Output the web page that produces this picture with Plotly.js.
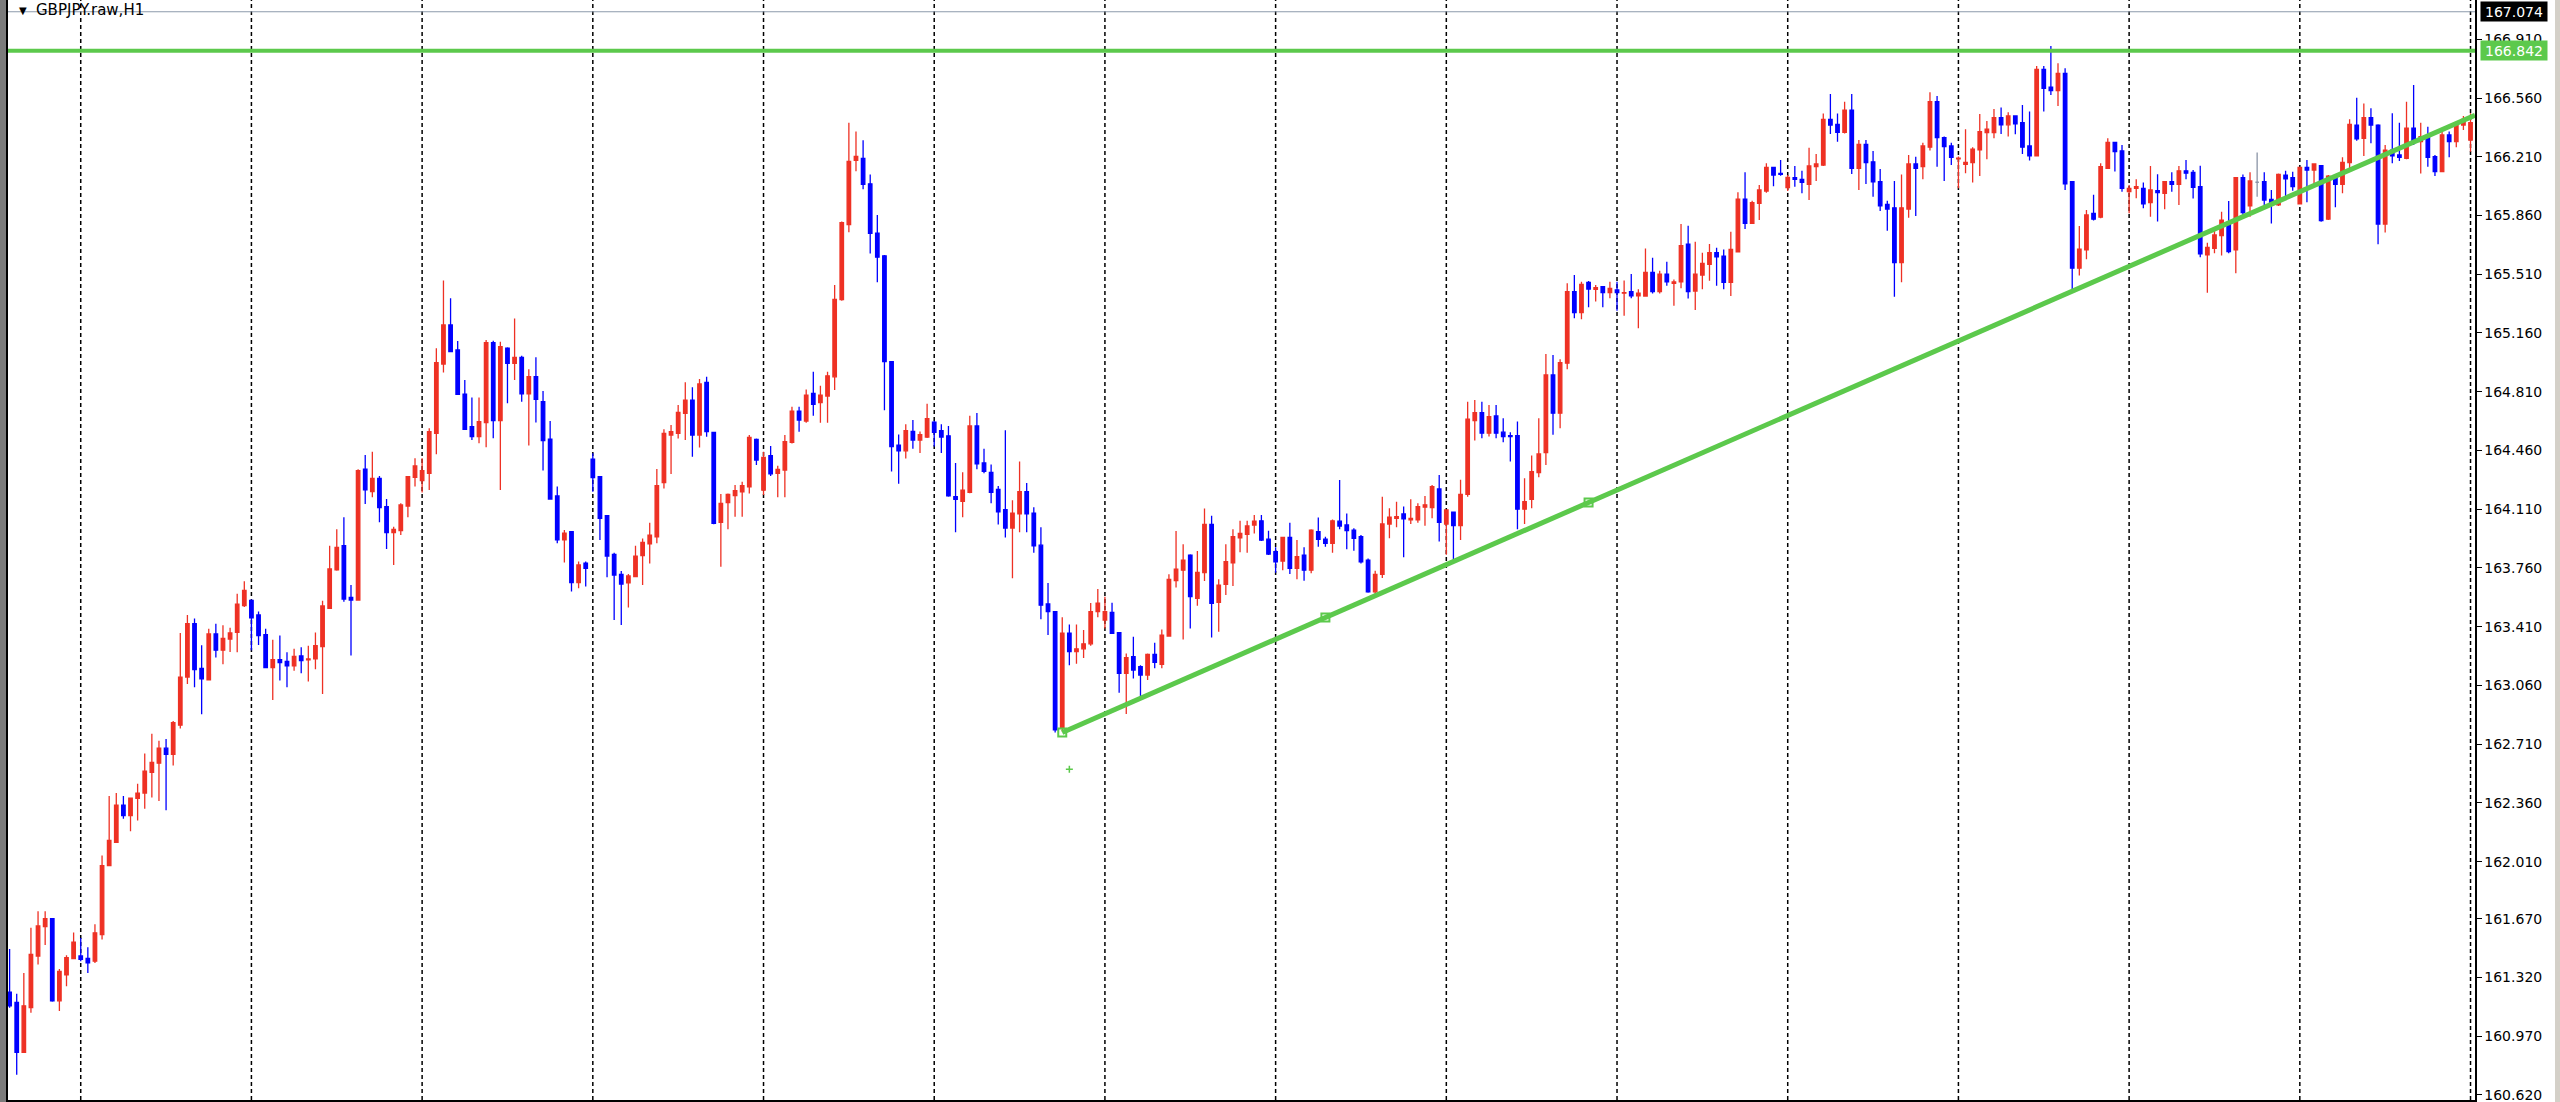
<!DOCTYPE html>
<html>
<head>
<meta charset="utf-8">
<script src="https://cdn.plot.ly/plotly-3.0.1.min.js"></script>
<style>
  html, body { margin: 0; padding: 0; background: #ffffff; }
  #chart { width: 2560px; height: 1102px; }
</style>
</head>
<body>
<div id="chart"></div>
<script>
// GBPJPY.raw H1 bars (oldest first)
const symbolTitle = 'GBPJPY.raw,H1';

const open = [
  161.233, 161.171, 160.874, 161.140, 161.448, 161.623, 161.670, 161.181, 161.335, 161.432,
  161.448, 161.434, 161.417, 161.575, 161.986, 162.125, 162.347, 162.285, 162.388, 162.419,
  162.542, 162.597, 162.686, 162.649, 162.823, 163.110, 163.428, 163.162, 163.094, 163.367,
  163.270, 163.336, 163.377, 163.535, 163.566, 163.480, 163.363, 163.166, 163.213, 163.203,
  163.176, 163.236, 163.212, 163.218, 163.291, 163.520, 163.748, 163.893, 163.585, 163.569,
  164.348, 164.215, 164.294, 164.125, 163.970, 163.982, 164.129, 164.300, 164.280, 164.324,
  164.562, 164.975, 165.208, 165.059, 164.795, 164.602, 164.542, 164.626, 165.102, 164.638,
  165.069, 164.979, 165.015, 164.797, 164.900, 164.751, 164.527, 164.189, 163.927, 163.976,
  163.673, 163.788, 164.409, 164.304, 164.071, 163.841, 163.722, 163.672, 163.708, 163.833,
  163.903, 163.946, 164.268, 164.552, 164.562, 164.681, 164.760, 164.552, 164.866, 164.568,
  164.032, 164.149, 164.191, 164.214, 164.244, 164.526, 164.224, 164.429, 164.324, 164.343,
  164.508, 164.695, 164.635, 164.800, 164.745, 164.784, 164.899, 165.359, 165.806, 166.189,
  166.200, 166.049, 165.755, 165.620, 164.989, 164.491, 164.458, 164.573, 164.522, 164.540,
  164.629, 164.578, 164.547, 164.185, 164.157, 164.210, 164.606, 164.386, 164.330, 164.228,
  164.108, 163.998, 164.082, 164.215, 164.087, 163.896, 163.546, 163.500, 162.810, 163.372,
  163.262, 163.278, 163.308, 163.500, 163.450, 163.495, 163.374, 163.132, 163.231, 163.172,
  163.122, 163.245, 163.186, 163.354, 163.684, 163.747, 163.837, 163.579, 163.732, 164.020,
  163.555, 163.662, 163.791, 163.940, 163.960, 164.016, 164.041, 163.932, 163.857, 163.801,
  163.942, 163.757, 163.837, 163.747, 163.976, 163.932, 163.906, 164.039, 164.016, 163.986,
  163.946, 163.807, 163.618, 163.722, 164.022, 164.056, 164.082, 164.046, 164.046, 164.122,
  164.120, 164.231, 164.022, 164.092, 164.012, 164.199, 164.638, 164.686, 164.563, 164.666,
  164.569, 164.549, 164.549, 164.110, 164.169, 164.328, 164.447, 164.910, 164.682, 164.980,
  165.407, 165.281, 165.462, 165.420, 165.436, 165.401, 165.416, 165.397, 165.407, 165.381,
  165.380, 165.521, 165.406, 165.511, 165.456, 165.464, 165.690, 165.410, 165.505, 165.569,
  165.638, 165.618, 165.461, 165.644, 165.958, 165.813, 165.932, 166.006, 166.147, 166.111,
  166.026, 166.085, 166.075, 166.045, 166.151, 166.161, 166.433, 166.403, 166.355, 166.488,
  166.141, 166.284, 166.180, 166.061, 165.926, 165.906, 165.579, 165.898, 166.167, 166.151,
  166.267, 166.539, 166.324, 166.274, 166.197, 166.165, 166.175, 166.251, 166.354, 166.354,
  166.443, 166.400, 166.453, 166.413, 166.274, 166.215, 166.731, 166.624, 166.604, 166.707,
  166.062, 165.546, 165.655, 165.873, 165.850, 166.141, 166.296, 166.245, 166.002, 166.022,
  166.022, 165.937, 166.008, 165.992, 166.062, 166.046, 166.126, 166.117, 166.032, 165.625,
  165.665, 165.740, 165.819, 165.655, 166.086, 165.917, 166.058, 166.062, 165.956, 165.923,
  166.101, 166.086, 165.929, 166.147, 166.131, 166.157, 165.839, 166.086, 166.046, 166.175,
  166.399, 166.320, 166.443, 166.399, 165.809, 166.250, 166.221, 166.201, 166.380, 166.300,
  166.330, 166.211, 166.121, 166.340, 166.300, 166.399, 166.310
];

const high = [
  161.489, 161.223, 161.346, 161.616, 161.715, 161.715, 161.674, 161.370, 161.452, 161.588,
  161.555, 161.500, 161.637, 162.047, 162.402, 162.419, 162.402, 162.392, 162.474, 162.655,
  162.772, 162.731, 162.741, 162.848, 163.373, 163.480, 163.459, 163.299, 163.398, 163.428,
  163.418, 163.404, 163.607, 163.681, 163.572, 163.500, 163.398, 163.332, 163.357, 163.258,
  163.279, 163.287, 163.297, 163.375, 163.565, 163.893, 163.990, 164.062, 163.659, 164.348,
  164.433, 164.453, 164.308, 164.171, 164.006, 164.145, 164.308, 164.413, 164.413, 164.592,
  165.069, 165.472, 165.367, 165.112, 164.880, 164.775, 164.775, 165.118, 165.114, 165.108,
  165.075, 165.247, 165.025, 164.944, 165.015, 164.815, 164.636, 164.245, 163.986, 163.976,
  163.798, 163.798, 164.443, 164.308, 164.075, 163.851, 163.742, 163.724, 163.893, 163.936,
  164.030, 164.349, 164.586, 164.612, 164.731, 164.866, 164.836, 164.886, 164.899, 164.568,
  164.200, 164.204, 164.254, 164.274, 164.552, 164.532, 164.453, 164.486, 164.369, 164.552,
  164.721, 164.721, 164.824, 164.929, 164.846, 164.929, 165.446, 165.824, 166.412, 166.361,
  166.309, 166.105, 165.863, 165.625, 164.989, 164.555, 164.616, 164.642, 164.573, 164.739,
  164.637, 164.616, 164.606, 164.386, 164.330, 164.667, 164.683, 164.471, 164.376, 164.248,
  164.580, 164.164, 164.394, 164.266, 164.121, 164.003, 163.671, 163.500, 163.467, 163.423,
  163.423, 163.390, 163.551, 163.635, 163.589, 163.553, 163.378, 163.251, 163.350, 163.181,
  163.251, 163.315, 163.394, 163.722, 163.980, 163.902, 163.841, 163.861, 164.115, 164.071,
  163.692, 163.902, 163.990, 164.041, 164.041, 164.075, 164.075, 163.982, 163.883, 163.946,
  164.030, 163.926, 163.883, 163.990, 164.061, 163.946, 164.049, 164.284, 164.085, 163.996,
  163.956, 163.817, 163.744, 164.185, 164.116, 164.155, 164.126, 164.169, 164.145, 164.189,
  164.255, 164.314, 164.110, 164.096, 164.285, 164.751, 164.761, 164.751, 164.731, 164.731,
  164.652, 164.569, 164.632, 164.294, 164.430, 164.652, 165.035, 165.029, 165.003, 165.456,
  165.506, 165.466, 165.470, 165.446, 165.440, 165.466, 165.466, 165.472, 165.512, 165.420,
  165.664, 165.608, 165.531, 165.585, 165.479, 165.809, 165.799, 165.704, 165.638, 165.690,
  165.668, 165.658, 165.763, 165.998, 166.117, 165.948, 166.041, 166.171, 166.151, 166.190,
  166.101, 166.155, 166.127, 166.264, 166.226, 166.468, 166.584, 166.468, 166.538, 166.584,
  166.310, 166.310, 166.244, 166.137, 165.948, 166.065, 166.105, 166.220, 166.210, 166.294,
  166.594, 166.572, 166.330, 166.294, 166.211, 166.374, 166.267, 166.465, 166.423, 166.495,
  166.503, 166.475, 166.457, 166.519, 166.479, 166.751, 166.751, 166.870, 166.767, 166.737,
  166.066, 165.798, 165.893, 165.983, 166.171, 166.320, 166.300, 166.280, 166.042, 166.076,
  166.056, 166.155, 166.106, 166.066, 166.118, 166.155, 166.191, 166.131, 166.157, 165.698,
  165.774, 165.883, 165.946, 166.090, 166.105, 166.117, 166.235, 166.117, 166.012, 166.111,
  166.127, 166.121, 166.151, 166.191, 166.171, 166.161, 166.101, 166.090, 166.207, 166.433,
  166.562, 166.528, 166.499, 166.403, 166.280, 166.469, 166.413, 166.538, 166.638, 166.413,
  166.389, 166.221, 166.360, 166.360, 166.409, 166.453, 166.469
];

const low = [
  161.140, 160.740, 160.870, 161.110, 161.397, 161.514, 161.175, 161.120, 161.268, 161.428,
  161.417, 161.346, 161.407, 161.547, 161.982, 162.125, 162.265, 162.191, 162.255, 162.326,
  162.392, 162.372, 162.316, 162.583, 162.803, 163.069, 163.049, 162.889, 163.090, 163.227,
  163.186, 163.260, 163.258, 163.527, 163.270, 163.301, 163.166, 162.973, 163.090, 163.049,
  163.147, 163.132, 163.083, 163.156, 163.009, 163.516, 163.744, 163.559, 163.238, 163.569,
  164.141, 164.181, 164.032, 163.873, 163.778, 163.957, 164.062, 164.245, 164.209, 164.225,
  164.437, 164.924, 165.049, 164.795, 164.582, 164.523, 164.503, 164.479, 164.533, 164.225,
  164.741, 164.880, 164.751, 164.489, 164.626, 164.340, 164.171, 163.907, 163.792, 163.619,
  163.639, 163.649, 164.214, 163.926, 163.704, 163.450, 163.420, 163.525, 163.708, 163.658,
  163.787, 163.907, 164.234, 164.320, 164.532, 164.522, 164.423, 164.478, 164.542, 164.020,
  163.767, 163.990, 164.065, 164.065, 164.204, 164.373, 164.194, 164.308, 164.181, 164.181,
  164.502, 164.572, 164.625, 164.667, 164.625, 164.625, 164.820, 165.352, 165.760, 166.123,
  166.016, 165.633, 165.462, 164.700, 164.335, 164.261, 164.412, 164.471, 164.445, 164.535,
  164.483, 164.445, 164.185, 163.973, 164.062, 164.205, 164.348, 164.325, 164.146, 164.019,
  163.942, 163.699, 163.973, 163.973, 163.850, 163.454, 163.360, 162.780, 162.785, 163.181,
  163.189, 163.224, 163.296, 163.467, 163.400, 163.366, 163.017, 162.890, 163.102, 162.987,
  163.092, 163.162, 163.162, 163.350, 163.644, 163.334, 163.400, 163.535, 163.682, 163.346,
  163.380, 163.599, 163.652, 163.853, 163.851, 163.966, 163.920, 163.837, 163.732, 163.747,
  163.724, 163.692, 163.684, 163.728, 163.887, 163.887, 163.851, 163.990, 163.871, 163.863,
  163.787, 163.612, 163.589, 163.700, 163.937, 164.003, 163.824, 164.022, 164.030, 164.012,
  164.056, 163.917, 163.838, 163.810, 163.927, 164.185, 164.519, 164.533, 164.543, 164.533,
  164.509, 164.394, 163.990, 164.022, 164.116, 164.300, 164.374, 164.553, 164.592, 164.944,
  165.248, 165.242, 165.313, 165.347, 165.313, 165.367, 165.293, 165.262, 165.367, 165.188,
  165.376, 165.396, 165.396, 165.442, 165.322, 165.426, 165.366, 165.297, 165.420, 165.471,
  165.442, 165.420, 165.380, 165.640, 165.779, 165.809, 165.833, 165.996, 166.035, 166.097,
  166.006, 166.031, 165.992, 165.952, 166.065, 166.155, 166.345, 166.300, 166.349, 166.107,
  166.012, 166.047, 165.972, 165.887, 165.769, 165.376, 165.462, 165.847, 165.857, 166.076,
  166.247, 166.151, 166.066, 166.161, 166.022, 166.112, 166.056, 166.096, 166.195, 166.320,
  166.346, 166.330, 166.344, 166.227, 166.187, 166.211, 166.479, 166.578, 166.513, 166.012,
  165.410, 165.502, 165.599, 165.830, 165.844, 166.137, 166.122, 166.002, 165.873, 165.963,
  165.903, 165.853, 165.824, 165.897, 166.002, 165.923, 166.076, 165.962, 165.611, 165.400,
  165.635, 165.621, 165.635, 165.516, 165.863, 165.853, 165.972, 165.903, 165.813, 165.917,
  165.972, 166.008, 165.925, 165.939, 166.032, 165.823, 165.833, 165.909, 165.992, 166.127,
  166.306, 166.215, 166.290, 165.688, 165.758, 166.171, 166.185, 166.195, 166.280, 166.111,
  166.151, 166.095, 166.117, 166.207, 166.266, 166.370, 166.240
];

const close = [
  161.151, 160.874, 161.151, 161.458, 161.627, 161.670, 161.181, 161.356, 161.438, 161.530,
  161.428, 161.407, 161.586, 161.986, 162.136, 162.347, 162.285, 162.388, 162.419, 162.550,
  162.601, 162.686, 162.649, 162.839, 163.110, 163.428, 163.155, 163.100, 163.367, 163.270,
  163.340, 163.373, 163.545, 163.627, 163.463, 163.357, 163.166, 163.213, 163.196, 163.176,
  163.233, 163.208, 163.218, 163.297, 163.534, 163.754, 163.883, 163.575, 163.569, 164.340,
  164.225, 164.294, 164.119, 163.970, 163.990, 164.135, 164.304, 164.368, 164.340, 164.572,
  164.983, 165.208, 165.049, 164.795, 164.586, 164.542, 164.632, 165.102, 164.638, 165.079,
  164.979, 165.015, 164.797, 164.900, 164.765, 164.519, 164.171, 163.927, 163.967, 163.673,
  163.778, 163.758, 164.298, 164.055, 163.831, 163.718, 163.664, 163.712, 163.831, 163.912,
  163.956, 164.250, 164.562, 164.572, 164.687, 164.760, 164.552, 164.856, 164.572, 164.026,
  164.145, 164.198, 164.220, 164.250, 164.538, 164.403, 164.419, 164.320, 164.347, 164.512,
  164.695, 164.641, 164.790, 164.735, 164.790, 164.905, 165.360, 165.817, 166.182, 166.212,
  166.046, 165.753, 165.612, 164.989, 164.483, 164.458, 164.578, 164.522, 164.555, 164.649,
  164.568, 164.540, 164.190, 164.169, 164.223, 164.606, 164.381, 164.335, 164.210, 164.095,
  163.998, 164.087, 164.215, 164.082, 163.891, 163.538, 163.500, 162.795, 163.372, 163.262,
  163.278, 163.308, 163.500, 163.551, 163.499, 163.370, 163.132, 163.225, 163.152, 163.122,
  163.245, 163.197, 163.360, 163.692, 163.753, 163.807, 163.589, 163.734, 164.020, 163.549,
  163.658, 163.797, 163.946, 163.966, 164.010, 164.039, 163.926, 163.843, 163.797, 163.942,
  163.757, 163.827, 163.747, 163.986, 163.930, 163.906, 164.041, 164.010, 163.982, 163.936,
  163.797, 163.618, 163.722, 164.022, 164.062, 164.066, 164.052, 164.056, 164.126, 164.136,
  164.245, 164.032, 164.106, 164.012, 164.199, 164.646, 164.686, 164.563, 164.662, 164.563,
  164.543, 164.543, 164.110, 164.155, 164.334, 164.439, 164.910, 164.682, 164.984, 165.407,
  165.281, 165.450, 165.422, 165.430, 165.401, 165.426, 165.401, 165.401, 165.381, 165.397,
  165.521, 165.406, 165.511, 165.465, 165.464, 165.680, 165.406, 165.511, 165.575, 165.638,
  165.614, 165.461, 165.658, 165.958, 165.813, 165.936, 166.012, 166.147, 166.101, 166.105,
  166.087, 166.075, 166.057, 166.155, 166.167, 166.433, 166.399, 166.355, 166.488, 166.141,
  166.284, 166.175, 166.061, 165.918, 165.898, 165.579, 165.906, 166.167, 166.141, 166.274,
  166.539, 166.324, 166.270, 166.207, 166.201, 166.177, 166.255, 166.360, 166.374, 166.443,
  166.400, 166.453, 166.406, 166.267, 166.215, 166.731, 166.618, 166.604, 166.707, 166.048,
  165.546, 165.659, 165.863, 165.838, 166.151, 166.296, 166.241, 166.022, 166.022, 166.032,
  165.929, 166.012, 165.996, 166.062, 166.046, 166.126, 166.112, 166.028, 165.631, 165.670,
  165.744, 165.833, 165.645, 166.086, 165.877, 166.066, 166.058, 165.952, 165.929, 166.105,
  166.078, 166.032, 166.147, 166.131, 166.167, 165.829, 166.095, 166.046, 166.177, 166.403,
  166.316, 166.443, 166.399, 165.809, 166.250, 166.215, 166.207, 166.380, 166.300, 166.330,
  166.207, 166.121, 166.340, 166.300, 166.399, 166.433, 166.413
];

// price scale labels on the right
const priceTicks = [160.620, 160.970, 161.320, 161.670, 162.010, 162.360, 162.710, 163.060,
  163.410, 163.760, 164.110, 164.460, 164.810, 165.160, 165.510, 165.860, 166.210, 166.560, 166.910];

// objects on the chart
const bidPrice = 167.074;
const levelPrice = 166.842;
const trendBars = [148, 222];
const trendPrices = [162.780, 164.150];
const stopBar = 149;
const stopPrice = 162.560;

const firstDayBar = 10;
const barsPerDay = 24;

const RED = '#ee3124';
const BLUE = '#0000ff';
const DOJI = '#8a94a6';
const GREEN = '#5cc94c';

const x = open.map((_, i) => i);
const isDoji = open.map((o, i) => o === close[i]);
const pick = (arr, keep) => arr.map((v, i) => (isDoji[i] === keep ? v : null));

const xMin = -0.225;
const xMax = 346.63;

// trend line as a ray from the first anchor through the second
const slope = (trendPrices[1] - trendPrices[0]) / (trendBars[1] - trendBars[0]);
const trendAt = b => trendPrices[0] + (b - trendBars[0]) * slope;
const midBar = (trendBars[0] + trendBars[1]) / 2;

const candles = {
    type: 'candlestick',
    x: x,
    open: pick(open, false),
    high: pick(high, false),
    low: pick(low, false),
    close: pick(close, false),
    increasing: { line: { color: RED, width: 1.3 }, fillcolor: RED },
    decreasing: { line: { color: BLUE, width: 1.3 }, fillcolor: BLUE },
    whiskerwidth: 0,
    hoverinfo: 'skip'
};

const dojis = {
    type: 'candlestick',
    x: x,
    open: pick(open, true),
    high: pick(high, true),
    low: pick(low, true),
    close: pick(close, true),
    increasing: { line: { color: DOJI, width: 1.3 }, fillcolor: DOJI },
    decreasing: { line: { color: DOJI, width: 1.3 }, fillcolor: DOJI },
    whiskerwidth: 0,
    hoverinfo: 'skip'
};

const trendPoints = {
    type: 'scatter',
    mode: 'markers',
    x: [trendBars[0], midBar, trendBars[1]],
    y: [trendAt(trendBars[0]), trendAt(midBar), trendAt(trendBars[1])],
    marker: { symbol: 'square-open', size: 8, color: GREEN, line: { width: 2, color: GREEN } },
    hoverinfo: 'skip'
};

const stopMark = {
    type: 'scatter',
    mode: 'markers',
    x: [stopBar],
    y: [stopPrice],
    marker: { symbol: 'cross-thin-open', size: 5, color: GREEN, line: { width: 1.5, color: GREEN } },
    hoverinfo: 'skip'
};

const shapes = [];

// period separators (start of each day)
for (let b = firstDayBar; b <= xMax; b += barsPerDay) {
    shapes.push({
        type: 'line', layer: 'below', xref: 'x', yref: 'paper',
        x0: b, x1: b, y0: 0, y1: 1,
        line: { color: '#000000', width: 1.5, dash: '4px,3px' }
    });
}

// bid line
shapes.push({
    type: 'line', xref: 'paper', yref: 'y', x0: 0, x1: 1, y0: bidPrice, y1: bidPrice,
    line: { color: '#8c9aab', width: 1 }
});

// horizontal level
shapes.push({
    type: 'line', xref: 'paper', yref: 'y', x0: 0, x1: 1, y0: levelPrice, y1: levelPrice,
    line: { color: GREEN, width: 4 }
});

// trend line
shapes.push({
    type: 'line', xref: 'x', yref: 'y',
    x0: trendBars[0], y0: trendAt(trendBars[0]), x1: xMax, y1: trendAt(xMax),
    line: { color: GREEN, width: 5 }
});

// window frame left and right
const plotW = 2560 - 8 - 85;
shapes.push({
    type: 'rect', xref: 'paper', yref: 'paper', x0: -8 / plotW, x1: -2 / plotW, y0: -2 / 1100, y1: 1,
    fillcolor: '#7b7b7b', line: { width: 0 }
});
shapes.push({
    type: 'rect', xref: 'paper', yref: 'paper', x0: -2 / plotW, x1: 0, y0: -2 / 1100, y1: 1,
    fillcolor: '#000000', line: { width: 0 }
});
shapes.push({
    type: 'rect', xref: 'paper', yref: 'paper', x0: (2555 - 8) / plotW, x1: (2560 - 8) / plotW, y0: -2 / 1100, y1: 1,
    fillcolor: '#d4d0c8', line: { width: 0 }
});

const annotations = [
    {
        xref: 'paper', yref: 'paper', x: 9 / plotW, y: 1, xanchor: 'left', yanchor: 'top',
        yshift: -3, text: '▼', showarrow: false,
        font: { family: 'DejaVu Sans', size: 10, color: '#000000' }
    },
    {
        xref: 'paper', yref: 'paper', x: 26 / plotW, y: 1, xanchor: 'left', yanchor: 'top',
        yshift: 1, text: symbolTitle, showarrow: false,
        font: { family: 'DejaVu Sans', size: 15, color: '#000000' }
    },
    {
        xref: 'paper', yref: 'y', x: 1, y: bidPrice, xanchor: 'left', xshift: 5,
        text: bidPrice.toFixed(3), showarrow: false, bgcolor: '#000000',
        width: 64, height: 17, borderpad: 1,
        font: { family: 'DejaVu Sans', size: 14, color: '#ffffff' }
    },
    {
        xref: 'paper', yref: 'y', x: 1, y: levelPrice, xanchor: 'left', xshift: 5,
        text: levelPrice.toFixed(3), showarrow: false, bgcolor: GREEN,
        width: 64, height: 17, borderpad: 1,
        font: { family: 'DejaVu Sans', size: 14, color: '#ffffff' }
    }
];

const layout = {
    width: 2560,
    height: 1102,
    margin: { l: 8, r: 85, t: 0, b: 2 },
    paper_bgcolor: '#ffffff',
    plot_bgcolor: '#ffffff',
    showlegend: false,
    xaxis: {
        range: [xMin, xMax],
        showgrid: false, zeroline: false, showticklabels: false, ticks: '',
        showline: true, linecolor: '#000000', linewidth: 1.5,
        rangeslider: { visible: false }, fixedrange: true
    },
    yaxis: {
        side: 'right',
        range: [160.590, 167.144],
        tickvals: priceTicks,
        ticktext: priceTicks.map(v => v.toFixed(3)),
        ticks: 'outside', ticklen: 5, tickcolor: '#000000', tickwidth: 1,
        ticklabeloverflow: 'allow',
        showline: true, linecolor: '#000000', linewidth: 1.5,
        showgrid: false, zeroline: false, fixedrange: true,
        tickfont: { family: 'DejaVu Sans', size: 14, color: '#000000' }
    },
    shapes: shapes,
    annotations: annotations
};

Plotly.newPlot('chart', [candles, dojis, trendPoints, stopMark], layout, { displayModeBar: false, staticPlot: true });
</script>
</body>
</html>
